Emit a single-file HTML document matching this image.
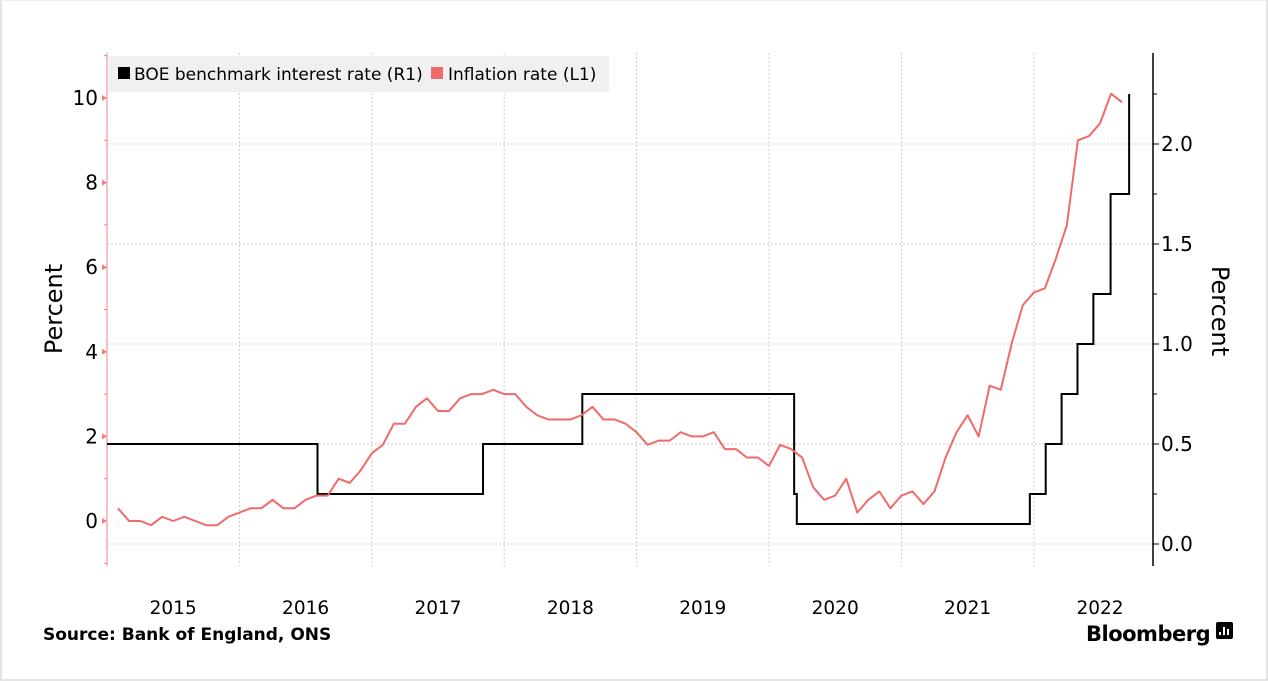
<!DOCTYPE html>
<html><head><meta charset="utf-8"><style>
body{margin:0;background:#fff;}
#wrap{position:relative;width:1268px;height:681px;box-sizing:border-box;border:2px solid #e4e4e4;border-top:1px solid #eee;overflow:hidden;font-family:"DejaVu Sans","Liberation Sans",sans-serif;}
svg text{font-family:"DejaVu Sans","Liberation Sans",sans-serif;}
</style></head><body>
<div id="wrap">
<svg id="chart" width="1268" height="681"></svg>
</div>
<script>
const years=["2015","2016","2017","2018","2019","2020","2021","2022"];
const leftTicks=[0,2,4,6,8,10];
const rightTicks=[0.0,0.5,1.0,1.5,2.0];
const rightTickLabels=["0.0","0.5","1.0","1.5","2.0"];
const inflation=[0.3,0.0,0.0,-0.1,0.1,0.0,0.1,0.0,-0.1,-0.1,0.1,0.2,
0.3,0.3,0.5,0.3,0.3,0.5,0.6,0.6,1.0,0.9,1.2,1.6,
1.8,2.3,2.3,2.7,2.9,2.6,2.6,2.9,3.0,3.0,3.1,3.0,
3.0,2.7,2.5,2.4,2.4,2.4,2.5,2.7,2.4,2.4,2.3,2.1,
1.8,1.9,1.9,2.1,2.0,2.0,2.1,1.7,1.7,1.5,1.5,1.3,
1.8,1.7,1.5,0.8,0.5,0.6,1.0,0.2,0.5,0.7,0.3,0.6,
0.7,0.4,0.7,1.5,2.1,2.5,2.0,3.2,3.1,4.2,5.1,5.4,
5.5,6.2,7.0,9.0,9.1,9.4,10.1,9.9];
// rate changes: time (years since 2015) and level
const rateTimes=[0,1.59,2.84,3.59,5.19,5.21,6.97,7.09,7.21,7.33,7.45,7.58,7.72];
const rateValues=[0.5,0.25,0.5,0.75,0.25,0.1,0.25,0.5,0.75,1.0,1.25,1.75,2.25];

const NS="http://www.w3.org/2000/svg";
const svg=document.getElementById('chart');
const X0=105,YW=132.4,PT=52,PB=565,RX=1151;
const x=t=>X0+YW*t;
const yl=v=>520-42.3*v;
const yr=v=>543-200*v;
function el(tag,attrs,parent){const e=document.createElementNS(NS,tag);for(const k in attrs)e.setAttribute(k,attrs[k]);(parent||svg).appendChild(e);return e;}

rightTicks.forEach(v=>{const g=el('line',{x1:X0,x2:RX,y1:yr(v),y2:yr(v),stroke:'#ccc','stroke-dasharray':'2,2'});

});
years.forEach((y,i)=>{if(i>0){const g=el('line',{x1:x(i),x2:x(i),y1:PT,y2:PB,stroke:'#ccc','stroke-dasharray':'2,2'});

}
const t=el('text',{x:x(i+0.5),y:613,'text-anchor':'middle','font-size':'18.5',fill:'#000'});t.textContent=y;

});

const la=el('line',{x1:X0,x2:X0,y1:PT,y2:PB,stroke:'#f08080','stroke-width':1});


for(let v=-1;v<=11;v++){const yy=yl(v);if(yy<PT||yy>PB)continue;
if(v%2===0){const p=el('path',{d:`M${X0} ${yy} l-5 -3 v6 z`,fill:'#f08080'});
const t=el('text',{x:96,y:yy+7,'text-anchor':'end','font-size':'20',fill:'#000'});t.textContent=v;

}
else{const m=el('line',{x1:X0-3,x2:X0,y1:yy,y2:yy,stroke:'#f08080'});}}
const ra=el('line',{x1:RX,x2:RX,y1:PT,y2:PB,stroke:'#000','stroke-width':1.5});


for(let v=-0.25;v<=2.5;v+=0.25){const yy=yr(v);if(yy<PT||yy>PB)continue;
const major=Math.abs(v*2-Math.round(v*2))<0.01;
const m=el('line',{x1:RX,x2:RX+(major?6:4),y1:yy,y2:yy,stroke:'#000'});

}
rightTicks.forEach((v,i)=>{const t=el('text',{x:1159,y:yr(v)+7,'font-size':'20',fill:'#000'});t.textContent=rightTickLabels[i];

});

const lt=el('text',{x:0,y:0,transform:'translate(60,308) rotate(-90)','text-anchor':'middle','font-size':'24',fill:'#000'});lt.textContent='Percent';


const rt=el('text',{x:0,y:0,transform:'translate(1210,310) rotate(90)','text-anchor':'middle','font-size':'24',fill:'#000'});rt.textContent='Percent';



let d='';
rateTimes.forEach((t,i)=>{if(i===0)d+=`M${x(t)} ${yr(rateValues[i])}`;else d+=` H${x(t)} V${yr(rateValues[i])}`;});
const rl=el('path',{d:d,fill:'none',stroke:'#000','stroke-width':2});



const pts=inflation.map((v,i)=>`${x((i+1)/12)},${yl(v)}`).join(' ');
const il=el('polyline',{points:pts,fill:'none',stroke:'#f06a6a','stroke-width':2,'stroke-linejoin':'round'});



const lg=el('rect',{x:107,y:55,width:500,height:36,fill:'#f0f0f0'});


const s1=el('rect',{x:116,y:66,width:12,height:12,fill:'#000'});


const t1=el('text',{x:132,y:79,'font-size':'17',fill:'#000'});t1.textContent='BOE benchmark interest rate (R1)';


const s2=el('rect',{x:429,y:66,width:12,height:12,fill:'#f06a6a'});


const t2=el('text',{x:446,y:79,'font-size':'17',fill:'#000'});t2.textContent='Inflation rate (L1)';



const src=el('text',{x:41,y:639,'font-size':'17','font-weight':'bold',fill:'#000'});src.textContent='Source:  Bank of England, ONS';


const bb=el('text',{x:1084,y:640,'font-size':'21','font-weight':'bold',fill:'#000','letter-spacing':'-0.5'});bb.textContent='Bloomberg';


const ic=el('rect',{x:1214,y:621,width:17,height:17,rx:2,fill:'#000'});


[[1217,631,3],[1221,626,8],[1225,628,6]].forEach(b=>{const r=el('rect',{x:b[0],y:b[1],width:2,height:b[2],fill:'#fff'});

});
</script>
</body></html>
